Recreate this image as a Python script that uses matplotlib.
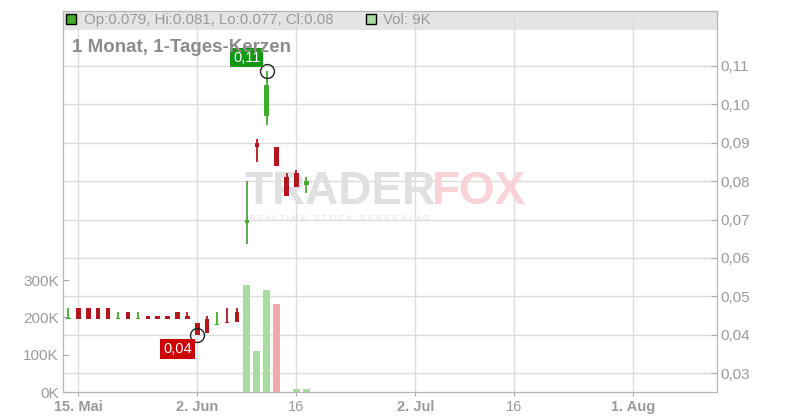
import numpy as np
import matplotlib.pyplot as plt
from matplotlib.patches import Rectangle

plt.rcParams['font.family'] = ['Liberation Sans', 'DejaVu Sans']

# daily candles (2025), x axis counts trading days
dates = ['2025-05-14', '2025-05-15', '2025-05-16', '2025-05-19', '2025-05-20',
         '2025-05-21', '2025-05-22', '2025-05-23', '2025-05-26', '2025-05-27',
         '2025-05-28', '2025-05-29', '2025-05-30', '2025-06-02', '2025-06-03',
         '2025-06-04', '2025-06-05', '2025-06-06', '2025-06-09', '2025-06-10',
         '2025-06-11', '2025-06-12', '2025-06-13', '2025-06-16', '2025-06-17']
opens = [0.044, 0.047, 0.047, 0.047, 0.047, 0.044, 0.046, 0.044, 0.045, 0.045,
         0.045, 0.046, 0.045, 0.043, 0.044, 0.0425, 0.0432, 0.046, 0.069, 0.090,
         0.097, 0.089, 0.0812, 0.0821, 0.079]
highs = [0.047, 0.047, 0.047, 0.047, 0.047, 0.046, 0.046, 0.046, 0.045, 0.045,
         0.045, 0.046, 0.046, 0.043, 0.045, 0.046, 0.047, 0.047, 0.080, 0.091,
         0.1088, 0.089, 0.0822, 0.0829, 0.081]
lows = [0.044, 0.044, 0.044, 0.044, 0.044, 0.044, 0.044, 0.044, 0.044, 0.044,
        0.044, 0.044, 0.044, 0.040, 0.0405, 0.0425, 0.0431, 0.0432, 0.0637, 0.085,
        0.0947, 0.084, 0.0762, 0.0784, 0.077]
closes = [0.044, 0.044, 0.044, 0.044, 0.044, 0.044, 0.044, 0.044, 0.044, 0.044,
          0.044, 0.044, 0.044, 0.040, 0.0405, 0.0425, 0.0431, 0.0432, 0.070, 0.0889,
          0.105, 0.084, 0.0762, 0.0784, 0.080]
volumes = [0, 0, 0, 0, 0, 0, 0, 0, 0, 0, 0, 0, 0, 0, 0, 0, 0, 0,
           288000, 109000, 274000, 237000, 0, 8000, 9000]

tick_dates = ['2025-05-15', '2025-06-02', '2025-06-16', '2025-07-02', '2025-07-16', '2025-08-01']
tick_labels = ['15. Mai', '2. Jun', '16', '2. Jul', '16', '1. Aug']
tick_bold = [True, True, False, True, False, True]

price_ticks = [0.03, 0.04, 0.05, 0.06, 0.07, 0.08, 0.09, 0.10, 0.11]
vol_ticks = [0, 100000, 200000, 300000]

GREEN = '#44aa2e'
RED = '#b3161c'
VGREEN = '#a9dba3'
VRED = '#f0a9b1'
GRID = '#dcdcdc'
TXT = '#9a9a9a'

x = np.busday_count('2025-05-15', dates)
xt = np.busday_count('2025-05-15', tick_dates)
o, h, l, c = map(np.array, (opens, highs, lows, closes))

fig = plt.figure(figsize=(8, 4.2), dpi=100)
ax = fig.add_axes([63 / 800, 28 / 420, 653.7 / 800, 381 / 420])
axv = ax.twinx()
ax.patch.set_visible(False)
ax.set_zorder(1)
axv.set_zorder(0)
axv.patch.set_facecolor('white')

ax.set_xlim(-1.55, 64.4)
ax.set_ylim(0.0251, 0.1243)
axv.set_ylim(0, 1021000)

# header band
axv.add_patch(Rectangle((0, 0.95), 1, 0.05, transform=axv.transAxes,
                        facecolor='#e4e4e4', edgecolor='none', zorder=0))
for p in price_ticks:
    axv.axhline((p - 0.0251) / (0.1243 - 0.0251) * 1021000, color=GRID, lw=1, zorder=1)
for t in xt:
    axv.axvline(t, color=GRID, lw=1, zorder=1)

# volume, coloured by change of close
prev = np.r_[c[0], c[:-1]]
vcol = [VGREEN if cc >= pc else VRED for cc, pc in zip(c, prev)]
axv.bar(x, volumes, width=0.7, color=vcol, zorder=2)

# watermark
ax.text(0.278, 0.525, 'TRADER', transform=ax.transAxes, fontsize=33, fontweight='bold',
        color='#e0e0e0', va='center', ha='left', zorder=0.5)
ax.text(0.565, 0.525, 'FOX', transform=ax.transAxes, fontsize=33, fontweight='bold',
        color='#f9d3d8', va='center', ha='left', zorder=0.5)
ax.text(0.285, 0.455, 'R E A L T I M E   S T O C K   S C R E E N I N G', transform=ax.transAxes,
        fontsize=6.1, color='#e2e2e2', va='center', ha='left', zorder=0.5)

# candles
col = np.where(c >= o, GREEN, RED)
ax.vlines(x, l, h, colors=col, lw=1.3, zorder=3)
body_lo = np.minimum(o, c)
body_h = np.maximum(np.abs(c - o), 0.0003)
ax.bar(x, body_h, bottom=body_lo, width=0.45, color=col, zorder=4)

# high / low markers
ih = int(np.argmax(h))
il = int(np.argmin(l))
ax.plot([x[ih], x[il]], [h[ih], l[il]], 'o', ms=10, mfc='none', mec='#222222', mew=1, zorder=5)
ax.annotate(('%.2f' % h[ih]).replace('.', ','), (x[ih], h[ih]), xytext=(-20, 13),
            textcoords='offset pixels', ha='center', va='center', color='white',
            fontsize=10.5, zorder=6,
            bbox=dict(boxstyle='square,pad=0.2', fc='#119a11', ec='none'))
ax.annotate(('%.2f' % l[il]).replace('.', ','), (x[il], l[il]), xytext=(-20, -14),
            textcoords='offset pixels', ha='center', va='center', color='white',
            fontsize=10.5, zorder=6,
            bbox=dict(boxstyle='square,pad=0.2', fc='#cc0000', ec='none'))

# axes styling
ax.yaxis.tick_right()
axv.yaxis.tick_left()
ax.set_yticks(price_ticks)
ax.set_yticklabels([('%.2f' % p).replace('.', ',') for p in price_ticks])
axv.set_yticks(vol_ticks)
axv.set_yticklabels(['%dK' % (v // 1000) for v in vol_ticks])
ax.set_xticks(xt)
ax.set_xticklabels(tick_labels)
for t, b in zip(ax.get_xticklabels(), tick_bold):
    if b:
        t.set_fontweight('bold')

ax.tick_params(axis='y', direction='in', length=4, color='#aaaaaa', labelcolor=TXT,
               labelsize=11, pad=3)
axv.tick_params(axis='y', direction='in', length=4, color='#aaaaaa', labelcolor=TXT,
                labelsize=11, pad=3)
ax.tick_params(axis='x', direction='out', length=3, color='#aaaaaa', labelcolor=TXT,
               labelsize=10.5, pad=3)
axv.tick_params(axis='x', bottom=False, labelbottom=False)
for a in (ax, axv):
    for s in a.spines.values():
        s.set_color('#b5b5b5')

# header texts
ax.plot([0.013], [0.978], marker='s', ms=7, mfc=GREEN, mec='black', mew=1,
        transform=ax.transAxes, clip_on=False, zorder=7)
ax.text(0.032, 0.977, 'Op:0.079, Hi:0.081, Lo:0.077, Cl:0.08', transform=ax.transAxes,
        fontsize=10.8, color=TXT, va='center', ha='left', zorder=7)
ax.plot([0.471], [0.978], marker='s', ms=7, mfc=VGREEN, mec='black', mew=1,
        transform=ax.transAxes, clip_on=False, zorder=7)
ax.text(0.4895, 0.977, 'Vol: 9K', transform=ax.transAxes,
        fontsize=10.8, color=TXT, va='center', ha='left', zorder=7)
ax.text(0.0138, 0.9055, '1 Monat, 1-Tages-Kerzen', transform=ax.transAxes,
        fontsize=13.5, fontweight='bold', color='#8c8c8c', va='center', ha='left', zorder=8)

fig.savefig('out.png', dpi=100)
